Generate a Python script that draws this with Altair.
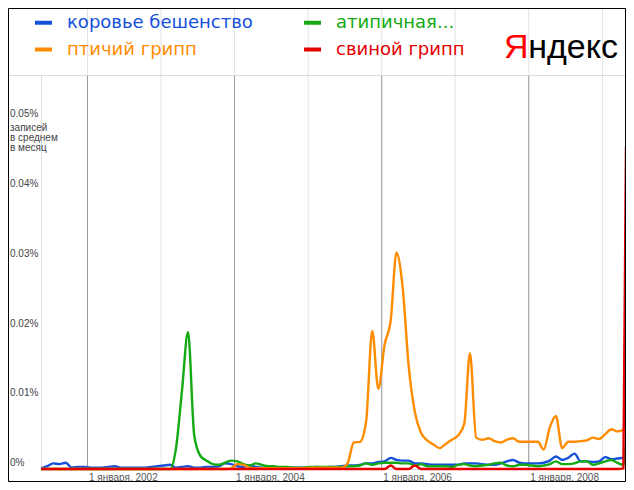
import altair as alt
import pandas as pd

# ---------------- data ----------------
series_names = ["коровье бешенство", "атипичная...", "птичий грипп", "свиной грипп"]
series_colors = ["#1450dc", "#14aa14", "#ff8c00", "#e60000"]
legend_order = ["коровье бешенство", "птичий грипп", "атипичная...", "свиной грипп"]

month_dates = [d.strftime("%Y-%m-%dT00:00:00")
               for d in pd.date_range("2001-05-15", periods=96, freq=pd.DateOffset(months=1))]
month_dates.append("2009-04-28T00:00:00")

mad_cow = [
    0.0001, 0.0004, 0.0008, 0.0007, 0.0009, 0.0002, 0.0003, 0.0003,
    0.0002, 0.0002, 0.0002, 0.0003, 0.0004, 0.0002, 0.0002, 0.0002, 0.0002, 0.0002, 0.0003, 0.0004,
    0.0005, 0.0006, 0.0002, 0.0003, 0.0004, 0.0002, 0.0002, 0.0003, 0.0003, 0.0004, 0.0008, 0.0007,
    0.0004, 0.0003, 0.0005, 0.0003, 0.0002, 0.0002, 0.0002, 0.0002, 0.0002, 0.0002, 0.0002, 0.0002,
    0.0002, 0.0003, 0.0002, 0.0003, 0.0003, 0.0004, 0.0005, 0.0005, 0.0006, 0.0008, 0.0008, 0.0010,
    0.0011, 0.0016, 0.0013, 0.0012, 0.0012, 0.0008, 0.0008, 0.0007, 0.0006, 0.0006, 0.0006, 0.0006,
    0.0006, 0.0008, 0.0008, 0.0008, 0.0007, 0.0006, 0.0006, 0.0008, 0.0011, 0.0013, 0.0009, 0.0008,
    0.0008, 0.0008, 0.0009, 0.0012, 0.0018, 0.0013, 0.0016, 0.0022, 0.0011, 0.0011, 0.0010, 0.0011,
    0.0017, 0.0014, 0.0015, 0.0016,
    0.0016,
]

sars = [
    0, 0, 0, 0, 0, 0, 0, 0,
    0, 0, 0, 0, 0, 0, 0, 0, 0, 0, 0, 0,
    0, 0, 0.0027, 0.0112, 0.0196, 0.0048, 0.0019, 0.0012, 0.0007, 0.0006, 0.0009, 0.0012,
    0.0011, 0.0007, 0.0005, 0.0008, 0.0006, 0.0004, 0.0004, 0.0003, 0.0003, 0.0002, 0.0002, 0.0002,
    0.0003, 0.0003, 0.0003, 0.0003, 0.0003, 0.0003, 0.0004, 0.0004, 0.0005, 0.0008, 0.0006, 0.0008,
    0.0009, 0.0009, 0.0009, 0.0008, 0.0008, 0.0005, 0.0007, 0.0004, 0.0004, 0.0004, 0.0004, 0.0003,
    0.0006, 0.0007, 0.0005, 0.0004, 0.0005, 0.0006, 0.0008, 0.0009, 0.0005, 0.0004, 0.0006, 0.0006,
    0.0005, 0.0004, 0.0005, 0.0007, 0.0011, 0.0007, 0.0007, 0.0008, 0.0011, 0.0011, 0.0006, 0.0008,
    0.0011, 0.0013, 0.0009, 0.0006,
    0.0038,
]

bird_flu = [
    0, 0, 0, 0, 0, 0, 0, 0,
    0, 0, 0, 0, 0, 0, 0, 0, 0, 0, 0, 0,
    0, 0, 0, 0, 0, 0, 0, 0, 0, 0, 0, 0.0001,
    0.0007, 0.0006, 0.0002, 0.0001, 0.0001, 0.0001, 0.0001, 0.0001, 0.0001, 0.0001, 0.0001, 0.0001,
    0.0002, 0.0002, 0.0002, 0.0002, 0.0002, 0.0002, 0.0008, 0.0038, 0.0039, 0.0067, 0.0198, 0.0115,
    0.0178, 0.0214, 0.0310, 0.0260, 0.0147, 0.0081, 0.0052, 0.0041, 0.0035, 0.0030, 0.0036, 0.0042,
    0.0048, 0.0065, 0.0166, 0.0045, 0.0042, 0.0044, 0.0040, 0.0038, 0.0042, 0.0044, 0.0039, 0.0039,
    0.0039, 0.0039, 0.0028, 0.0060, 0.0076, 0.0030, 0.0039, 0.0039, 0.0040, 0.0041, 0.0045, 0.0043,
    0.0050, 0.0057, 0.0054, 0.0056,
    0.0124,
]

swine_flu = [
    0, 0, 0, 0, 0, 0, 0, 0,
    0, 0, 0, 0, 0, 0, 0, 0, 0, 0, 0, 0,
    0, 0, 0, 0, 0, 0, 0, 0, 0, 0, 0, 0,
    0, 0, 0, 0, 0, 0, 0, 0, 0, 0, 0, 0,
    0, 0, 0, 0, 0, 0, 0, 0, 0, 0, 0, 0,
    0, 0.0005, 0, 0, 0, 0.0005, 0, 0, 0, 0, 0, 0,
    0, 0, 0, 0, 0, 0, 0, 0, 0, 0, 0, 0,
    0, 0, 0, 0, 0, 0, 0, 0, 0, 0, 0, 0,
    0, 0, 0, 0.0001,
    0.0463,
]

grid_years = [2002, 2003, 2004, 2005, 2006, 2007, 2008, 2009]
ytick_values = [0, 0.01, 0.02, 0.03, 0.04, 0.05]
ytick_labels = ["0%", "0.01%", "0.02%", "0.03%", "0.04%", "0.05%"]
unit_label = "записей\nв среднем\nв месяц"
logo_first, logo_rest = "Я", "ндекс"

# ---------------- tables ----------------
rows = []
for name, vals in zip(series_names, [mad_cow, sars, bird_flu, swine_flu]):
    for d, v in zip(month_dates, vals):
        rows.append({"date": d, "value": v, "series": name})
df = pd.DataFrame(rows)

grid_df = pd.DataFrame({
    "date": [f"{y}-01-01T00:00:00" for y in grid_years],
    "major": [y % 2 == 0 for y in grid_years],
})
ytick_df = pd.DataFrame({"v": ytick_values, "t": ytick_labels})
unit_df = pd.DataFrame({"v": [ytick_values[-1]], "t": [unit_label]})
one = alt.Data(values=[{}])

W, H = 585, 394
PAD_L, PAD_T, PAD_B = 33, 67, 13

x_scale = alt.Scale(domain=[alt.DateTime(year=2001, month=5, date=15),
                            alt.DateTime(year=2009, month=4, date=28)])
y_scale = alt.Scale(domain=[0, 0.0565], nice=False, zero=True)

label_years = [y for y in grid_years if y % 2 == 0]

x_axis = alt.Axis(
    values=[alt.DateTime(year=y, month=1, date=1) for y in label_years],
    labelExpr="'1 января, ' + timeFormat(datum.value, '%Y')",
    labelAlign="left", labelBaseline="top", labelPadding=3, labelOffset=1,
    labelFont="Liberation Sans", labelFontSize=10, labelColor="#555555",
    labelOverlap=False, labelFlush=False,
    domain=False, ticks=False, grid=False, title=None,
)

# grid lines (light, full height incl. header) and major (dark, plot only)
grid_light = alt.Chart(grid_df).mark_rule(color="#e3e3e3", strokeWidth=1).encode(
    x=alt.X("date:T", scale=x_scale, axis=x_axis),
    y=alt.value(-PAD_T), y2=alt.value(H),
)
grid_dark = alt.Chart(grid_df).transform_filter("datum.major").mark_rule(
    color="#9a9a9a", strokeWidth=1).encode(
    x=alt.X("date:T", scale=x_scale, axis=x_axis),
    y=alt.value(0), y2=alt.value(H),
)
header_line = alt.Chart(one).mark_rule(color="#dddddd", strokeWidth=1).encode(
    x=alt.value(-PAD_L), x2=alt.value(W), y=alt.value(0.5),
)
border = alt.Chart(one).mark_rect(filled=False, stroke="black", strokeWidth=1).encode(
    x=alt.value(-PAD_L + 0.5), x2=alt.value(W - 0.5),
    y=alt.value(-PAD_T + 0.5), y2=alt.value(H + PAD_B - 0.5),
)

lines = alt.Chart(df).mark_line(strokeWidth=2.4, interpolate="monotone").encode(
    x=alt.X("date:T", scale=x_scale, axis=x_axis),
    y=alt.Y("value:Q", scale=y_scale, axis=None),
    color=alt.Color(
        "series:N",
        scale=alt.Scale(domain=legend_order,
                        range=[series_colors[series_names.index(n)] for n in legend_order]),
        legend=alt.Legend(
            title=None, orient="none", legendX=-8, legendY=-63, columns=2,
            symbolType="stroke", symbolStrokeWidth=4, symbolSize=289,
            labelFont="DejaVu Sans", labelFontSize=18, labelLimit=400,
            labelOffset=13, columnPadding=43, rowPadding=7,
            labelColor={"expr": "scale('color', datum.value)"},
        ),
    ),
)

ylabels = alt.Chart(ytick_df).mark_text(
    align="left", baseline="bottom", dy=-1, font="Liberation Sans", fontSize=10, color="#444444"
).encode(
    x=alt.value(-PAD_L + 2),
    y=alt.Y("v:Q", scale=y_scale, axis=None),
    text="t:N",
)
unit_text = alt.Chart(unit_df).mark_text(
    align="left", baseline="top", dy=3, lineBreak="\n", lineHeight=10,
    font="Liberation Sans", fontSize=10, color="#444444"
).encode(
    x=alt.value(-PAD_L + 2),
    y=alt.Y("v:Q", scale=y_scale, axis=None),
    text="t:N",
)

logo_font = "Liberation Sans"
logo1 = alt.Chart(one).mark_text(
    text=logo_first, align="left", baseline="alphabetic", font=logo_font, fontSize=34, color="#ff0000"
).encode(x=alt.value(463), y=alt.value(-17))
logo2 = alt.Chart(one).mark_text(
    text=logo_rest, align="right", baseline="alphabetic", font=logo_font, fontSize=34, color="#000000"
).encode(x=alt.value(577), y=alt.value(-17))

chart = alt.layer(
    grid_light, grid_dark, header_line, lines, ylabels, unit_text, logo1, logo2, border
).properties(
    width=W, height=H,
    padding={"left": PAD_L, "top": PAD_T, "right": 0, "bottom": PAD_B},
    autosize=alt.AutoSizeParams(type="none"),
).configure_view(stroke=None).configure(background="white")

chart.save("out.html", embed_options={"renderer": "svg", "actions": False})
